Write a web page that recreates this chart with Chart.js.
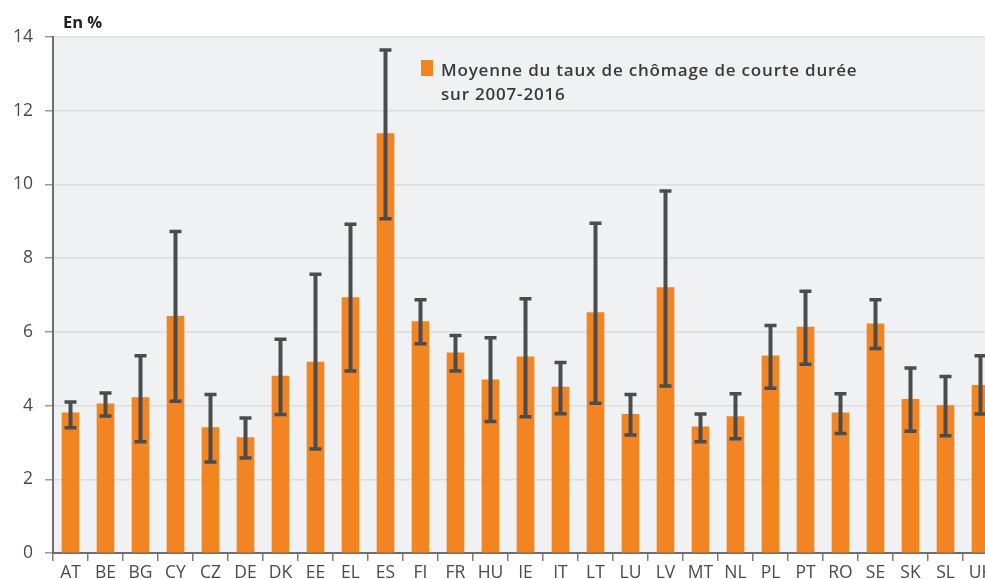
<!DOCTYPE html>
<html>
<head>
<meta charset="utf-8">
<script src="https://cdn.jsdelivr.net/npm/chart.js@4/dist/chart.umd.min.js"></script>
<style>
  html, body { margin: 0; padding: 0; background: #ffffff; overflow: hidden; }
  #wrap { width: 985px; height: 579px; overflow: hidden; position: relative; }
  canvas { display: block; }
</style>
</head>
<body>
<div id="wrap"><canvas id="c" width="1000" height="579"></canvas></div>
<script>
const categories = ["AT","BE","BG","CY","CZ","DE","DK","EE","EL","ES","FI","FR","HU","IE","IT","LT","LU","LV","MT","NL","PL","PT","RO","SE","SK","SL","UK"];
const meanValues = [3.8, 4.05, 4.22, 6.42, 3.4, 3.13, 4.8, 5.18, 6.93, 11.38, 6.28, 5.43, 4.7, 5.32, 4.5, 6.52, 3.76, 7.2, 3.42, 3.7, 5.35, 6.13, 3.8, 6.22, 4.17, 4.0, 4.55];
const maxValues  = [4.1, 4.34, 5.35, 8.72, 4.3, 3.66, 5.8, 7.56, 8.92, 13.65, 6.87, 5.9, 5.84, 6.9, 5.17, 8.95, 4.3, 9.82, 3.77, 4.32, 6.17, 7.1, 4.32, 6.87, 5.02, 4.79, 5.35];
const minValues  = [3.4, 3.72, 3.02, 4.12, 2.47, 2.58, 3.76, 2.82, 4.94, 9.07, 5.68, 4.94, 3.57, 3.7, 3.78, 4.06, 3.2, 4.53, 3.02, 3.1, 4.47, 5.12, 3.24, 5.55, 3.3, 3.18, 3.77];
const yTicks = [0, 2, 4, 6, 8, 10, 12, 14];
const seriesLabel = ["Moyenne du taux de chômage de courte durée", "sur 2007-2016"];
const unitLabel = "En %";

const ORANGE = "#f28422";
const ERR = "#4b4c4e";
const FONT = "'Open Sans', 'Noto Sans', sans-serif";

const bgPlugin = {
  id: "bg",
  beforeDraw(chart) {
    const a = chart.chartArea, ctx = chart.ctx;
    ctx.save();
    ctx.fillStyle = "#f0f1f3";
    ctx.fillRect(a.left, a.top, a.right - a.left, a.bottom - a.top);
    ctx.restore();
  }
};

const errPlugin = {
  id: "errbars",
  afterDatasetsDraw(chart) {
    const ctx = chart.ctx, y = chart.scales.y;
    const meta = chart.getDatasetMeta(0);
    ctx.save();
    ctx.strokeStyle = ERR;
    ctx.lineCap = "butt";
    meta.data.forEach((bar, i) => {
      const x = bar.x;
      const yt = y.getPixelForValue(maxValues[i]);
      const yb = y.getPixelForValue(minValues[i]);
      const w = 6;
      ctx.lineWidth = 4;
      ctx.beginPath();
      ctx.moveTo(x, yt); ctx.lineTo(x, yb);
      ctx.stroke();
      ctx.lineWidth = 3.5;
      ctx.beginPath();
      ctx.moveTo(x - w, yt); ctx.lineTo(x + w, yt);
      ctx.moveTo(x - w, yb); ctx.lineTo(x + w, yb);
      ctx.stroke();
    });
    ctx.restore();
  }
};

const textPlugin = {
  id: "texts",
  afterDraw(chart) {
    const ctx = chart.ctx;
    ctx.save();
    ctx.fillStyle = "#222222";
    ctx.font = "bold 16.5px " + FONT;
    ctx.textBaseline = "alphabetic";
    ctx.fillText(unitLabel, 63, 28);
    // legend
    ctx.fillStyle = ORANGE;
    ctx.fillRect(421, 60, 12, 16);
    ctx.fillStyle = "#3a3a3a";
    ctx.font = "600 17px " + FONT;
    if ("letterSpacing" in ctx) ctx.letterSpacing = "0.8px";
    ctx.fillText(seriesLabel[0], 441, 76);
    ctx.fillText(seriesLabel[1], 441, 100);
    ctx.restore();
  }
};

new Chart(document.getElementById("c"), {
  type: "bar",
  data: {
    labels: categories,
    datasets: [{
      label: seriesLabel.join(" "),
      data: meanValues,
      backgroundColor: ORANGE,
      borderWidth: 0,
      barThickness: 17
    }]
  },
  options: {
    responsive: false,
    animation: false,
    layout: { padding: { top: 37, right: 2, left: 0, bottom: 0 } },
    plugins: { legend: { display: false }, tooltip: { enabled: false } },
    scales: {
      x: {
        offset: true,
        grid: { display: true, drawOnChartArea: false, offset: true, tickLength: 8, color: "#7a7a7a", lineWidth: 1.5 },
        border: { display: true, color: "#6e6e6e", width: 2 },
        ticks: { font: { family: FONT, size: 17.5 }, color: "#4a4a4a", padding: 2, maxRotation: 0, autoSkip: false },
        afterFit(s) { s.height = 26; }
      },
      y: {
        min: 0, max: 14,
        afterBuildTicks(s) { s.ticks = yTicks.map(v => ({ value: v })); },
        grid: { color: "#dcdde0", lineWidth: 1.5, tickLength: 8, tickColor: "#9a9a9a" },
        border: { display: true, color: "#6e6e6e", width: 2 },
        ticks: { font: { family: FONT, size: 17.5 }, color: "#4a4a4a", padding: 12 },
        afterFit(s) { s.width = 53; }
      }
    }
  },
  plugins: [bgPlugin, errPlugin, textPlugin]
});
</script>
</body>
</html>
